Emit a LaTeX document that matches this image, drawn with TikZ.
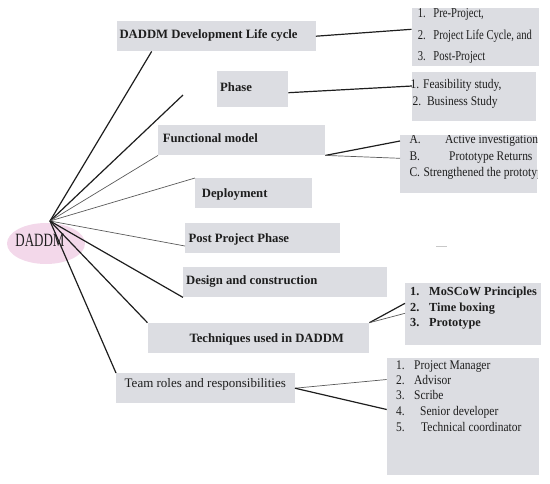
\documentclass[tikz,border=0pt]{standalone}
\usepackage{graphicx}
\usepackage{fontspec}
\setmainfont{Liberation Serif}
\newfontfamily\condA[FakeStretch=0.78]{Liberation Serif}
\newfontfamily\condB[FakeStretch=0.87]{Liberation Serif}
\usetikzlibrary{shapes.geometric}
\definecolor{boxgray}{RGB}{220,221,226}
\definecolor{rootpink}{RGB}{243,216,234}
\definecolor{ink}{RGB}{30,30,30}
\definecolor{thingray}{RGB}{90,90,90}
\definecolor{dashgray}{RGB}{200,200,200}
\begin{document}
\begin{tikzpicture}[x=1pt,y=-1pt,
  box/.style={fill=boxgray, draw=none, inner sep=0pt, anchor=north west},
  lbl/.style={inner sep=0pt, anchor=mid west, text=ink, font=\fontsize{12.7}{15}\selectfont\bfseries},
  lblreg/.style={inner sep=0pt, anchor=mid west, text=ink, font=\fontsize{13}{15}\selectfont},
  lstA/.style={inner sep=0pt, anchor=mid west, text=ink, font=\fontsize{13.6}{15}\condA},
  lstB/.style={inner sep=0pt, anchor=mid west, text=ink, font=\fontsize{13.2}{15}\condB},
  lstbold/.style={inner sep=0pt, anchor=mid west, text=ink, font=\fontsize{12.3}{15}\selectfont\bfseries},
  thickline/.style={draw=ink, line width=1.2pt},
  thinline/.style={draw=thingray, line width=0.7pt}
]
\useasboundingbox (0,0) rectangle (550,483);

% root
\node[ellipse, fill=rootpink, draw=none, minimum width=78pt, minimum height=41pt, inner sep=0pt] (root) at (46,243.5) {};
\node[inner sep=0pt, text=ink, font=\fontsize{13}{15}\selectfont] (roottext) at (40,240) {\scalebox{1}[1.44]{DADDM}};
\coordinate (hub) at (50,221);
\coordinate (free) at (183,95);

% main boxes
\node[box, minimum width=198.5pt, minimum height=30pt] (b1) at (117,21) {};
\node[box, minimum width=71pt, minimum height=36pt] (bphase) at (217,71) {};
\node[box, minimum width=167pt, minimum height=30pt] (bfunc) at (158,125) {};
\node[box, minimum width=116.7pt, minimum height=30pt] (bdep) at (195,178) {};
\node[box, minimum width=155pt, minimum height=30pt] (bpost) at (185,223) {};
\node[box, minimum width=203.8pt, minimum height=30pt] (bdes) at (183,267) {};
\node[box, minimum width=221.5pt, minimum height=30pt] (btech) at (147.5,322.7) {};
\node[box, minimum width=178.6pt, minimum height=30pt] (bteam) at (116,373) {};

% list boxes
\node[box, minimum width=127.5pt, minimum height=58.7pt] (l1) at (411.5,7.3) {};
\node[box, minimum width=124pt, minimum height=49pt] (l2) at (412,71.7) {};
\node[box, minimum width=136.7pt, minimum height=57.3pt] (l3) at (400,135) {};
\node[box, minimum width=135.7pt, minimum height=62.7pt] (l4) at (405,282.3) {};
\node[box, minimum width=152.3pt, minimum height=117.7pt] (l5) at (386.7,357.3) {};

% main labels
\node[lbl] (t1) at (119.3,36.7) {DADDM Development Life cycle};
\node[lbl] (tphase) at (220,89.3) {Phase};
\node[lbl] (tfunc) at (162.7,140) {Functional model};
\node[lbl] (tdep) at (201.7,195) {Deployment};
\node[lbl] (tpost) at (188.3,240) {Post Project Phase};
\node[lbl] (tdes) at (186,281.7) {Design and construction};
\node[lbl] (ttech) at (189.3,340) {Techniques used in DADDM};
\node[lblreg] (tteam) at (124.5,385) {Team roles and responsibilities};

% list texts
\node[lstA] (l1a) at (417.7,15) {\makebox[15.6pt][l]{1.}Pre-Project,};
\node[lstA] (l1b) at (417.7,37.3) {\makebox[15.6pt][l]{2.}Project Life Cycle, and};
\node[lstA] (l1c) at (417.7,58.3) {\makebox[15.6pt][l]{3.}Post-Project};

\node[lstB] (l2a) at (410.5,86) {1. Feasibility study,};
\node[lstB] (l2b) at (412.5,103.3) {2.\ \ Business Study};

\begin{scope}
\clip (l3.north west) rectangle (l3.south east);
\node[lstB] (l3a) at (409.3,141) {\makebox[35.7pt][l]{A.}Active investigation};
\node[lstB] (l3b) at (409.3,158.3) {\makebox[39.7pt][l]{B.}Prototype Returns};
\node[lstB] (l3c) at (409.3,174) {\makebox[14pt][l]{C.}Strengthened the prototype};
\end{scope}

\node[lstbold] (l4a) at (410,292.7) {\makebox[19pt][l]{1.}MoSCoW Principles};
\node[lstbold] (l4b) at (410,309.3) {\makebox[19pt][l]{2.}Time boxing};
\node[lstbold] (l4c) at (410,324) {\makebox[19pt][l]{3.}Prototype};

\node[lstB] (l5a) at (396,366.7) {\makebox[18pt][l]{1.}Project Manager};
\node[lstB] (l5b) at (396,381.7) {\makebox[18pt][l]{2.}Advisor};
\node[lstB] (l5c) at (396,396.7) {\makebox[18pt][l]{3.}Scribe};
\node[lstB] (l5d) at (396,413.3) {\makebox[24pt][l]{4.}Senior developer};
\node[lstB] (l5e) at (396,429.3) {\makebox[25pt][l]{5.}Technical coordinator};

% connectors from hub
\draw[thickline] (hub) -- (151.7,0 |- b1.south);
\draw[thickline] (hub) -- (free);
\draw[thinline] (hub) -- (bfunc.south west);
\draw[thinline] (hub) -- (bdep.north west);
\draw[thinline] (hub) -- (bpost.west |- 0,246);
\draw[thickline] (hub) -- (bdes.south west);
\draw[thickline] (hub) -- (btech.north west);
\draw[thickline] (hub) -- (bteam.north west);

% connectors to lists
\draw[thickline] (b1.east) -- (l1.west |- 0,29.3);
\draw[thickline] (bphase.east |- 0,92.7) -- (l2.west |- 0,86);
\draw[thickline] (bfunc.south east) -- (l3.west |- 0,141);
\draw[thinline] (bfunc.south east) -- (l3.west |- 0,158.3);
\draw[thickline] (btech.north east) -- (l4.west |- 0,303.3);
\draw[thinline] (btech.north east) -- (l4.west |- 0,313.3);
\draw[thinline] (bteam.east) -- (l5.west |- 0,379.5);
\draw[thickline] (bteam.east) -- (l5.west |- 0,409.5);

% small stray mark
\coordinate (m1) at (436,246);
\coordinate (m2) at (447,246);
\draw[draw=dashgray, line width=0.8pt] (m1) -- (m2);
\end{tikzpicture}
\end{document}
